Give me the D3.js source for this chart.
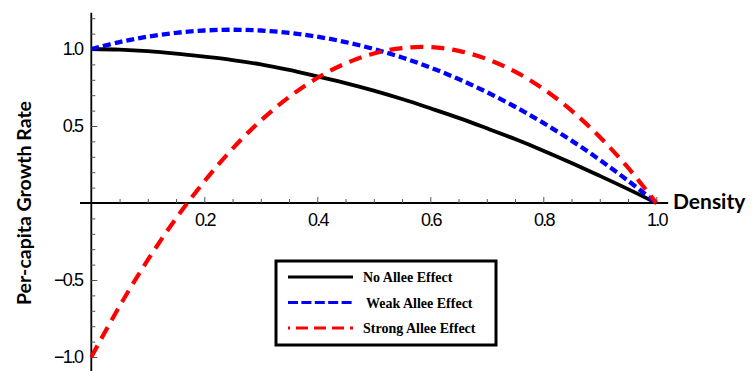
<!DOCTYPE html>
<html>
<head>
<meta charset="utf-8">
<script src="https://cdn.jsdelivr.net/npm/d3@7"></script>
<style>
  html, body { margin: 0; padding: 0; background: #fff; }
  .tick-label { font-family: "Liberation Sans", Arial, sans-serif; font-size: 18px; letter-spacing: -1.8px; fill: #000; }
</style>
</head>
<body>
<div id="chart"></div>
<script>
// ---------------------------------------------
// DATA
// ---------------------------------------------
const density = [0, 0.05, 0.1, 0.15, 0.2, 0.25, 0.3, 0.35, 0.4, 0.45, 0.5,
                 0.55, 0.6, 0.65, 0.7, 0.75, 0.8, 0.85, 0.9, 0.95, 1.0];

const noAllee = [1.0, 0.996, 0.986, 0.97, 0.95, 0.928, 0.9, 0.864, 0.822, 0.779, 0.73,
                 0.675, 0.615, 0.553, 0.485, 0.415, 0.34, 0.26, 0.176, 0.09, 0.0];

const weakAllee = [1.0, 1.045, 1.08, 1.105, 1.12, 1.125, 1.12, 1.105, 1.08, 1.045, 1.0,
                   0.945, 0.88, 0.805, 0.72, 0.625, 0.52, 0.405, 0.28, 0.145, 0.0];

const strongAllee = [-1.0, -0.67, -0.37, -0.1, 0.14, 0.353, 0.535, 0.688, 0.812, 0.906, 0.971,
                     1.006, 1.012, 0.988, 0.935, 0.853, 0.741, 0.6, 0.429, 0.229, 0.0];

const seriesNames = ["No Allee Effect", "Weak Allee Effect", "Strong Allee Effect"];

const xTicks = [0.2, 0.4, 0.6, 0.8, 1.0];
const xTickLabels = ["0.2", "0.4", "0.6", "0.8", "1.0"];
const yTicks = [-1.0, -0.5, 0.5, 1.0];
const yTickLabels = ["\u22121.0", "\u22120.5", "0.5", "1.0"];

(() => {
  const W = 752, H = 371;

  const svg = d3.select("#chart").append("svg")
    .attr("width", W)
    .attr("height", H);

  // ---------------------------------------------
  // SCALES
  // ---------------------------------------------
  const x = d3.scaleLinear().domain([0, 1]).range([91.3, 656.3]);
  const y = d3.scaleLinear().domain([-1, 1]).range([357, 49]);

  const styles = [
    { values: noAllee,     color: "#000",    width: 3.8, dash: null },
    { values: weakAllee,   color: "#0000ff", width: 4.3, dash: "8,4" },
    { values: strongAllee, color: "#ff0000", width: 4.2, dash: "13,8" }
  ];

  // ---------------------------------------------
  // AXES
  // ---------------------------------------------
  const xMinor = d3.range(1, 21).map(i => i * 0.05).filter(v => Math.abs(v * 5 - Math.round(v * 5)) > 1e-6);
  const yMinor = d3.range(-11, 13).map(i => i / 10).filter(v => Math.abs(v * 2 - Math.round(v * 2)) > 1e-6);

  // axis lines
  svg.append("line")
    .attr("x1", x(-0.02)).attr("x2", x(1.021))
    .attr("y1", y(0)).attr("y2", y(0))
    .attr("stroke", "#000").attr("stroke-width", 1.8);

  svg.append("line")
    .attr("x1", x(0)).attr("x2", x(0))
    .attr("y1", y(1.236)).attr("y2", H)
    .attr("stroke", "#000").attr("stroke-width", 1.8);

  const gx = svg.append("g").attr("transform", `translate(0,${y(0)})`);
  gx.append("g")
    .call(d3.axisBottom(x).tickValues(xMinor).tickSize(-4).tickFormat(""))
    .call(g => g.select(".domain").remove());
  gx.append("g")
    .call(d3.axisBottom(x).tickValues(xTicks).tickSize(-6).tickPadding(10)
      .tickFormat((d, i) => xTickLabels[i]))
    .call(g => g.select(".domain").remove())
    .call(g => g.selectAll("text").attr("class", "tick-label").attr("font-size", null).attr("font-family", null));

  const gy = svg.append("g").attr("transform", `translate(${x(0)},0)`);
  gy.append("g")
    .call(d3.axisLeft(y).tickValues(yMinor).tickSize(-4).tickFormat(""))
    .call(g => g.select(".domain").remove());
  gy.append("g")
    .call(d3.axisLeft(y).tickValues(yTicks).tickSize(-6).tickPadding(9)
      .tickFormat((d, i) => yTickLabels[i]))
    .call(g => g.select(".domain").remove())
    .call(g => g.selectAll("text").attr("class", "tick-label").attr("font-size", null).attr("font-family", null));

  svg.selectAll(".tick line").attr("stroke", "#555").attr("stroke-width", 1);

  // axis titles
  svg.append("text")
    .attr("transform", `translate(31,${y(0)}) rotate(-90)`)
    .attr("text-anchor", "middle")
    .style("font-family", "Lato, 'Open Sans', sans-serif")
    .style("font-weight", "bold")
    .style("font-size", "19.5px")
    .text("Per-capita Growth Rate");

  svg.append("text")
    .attr("x", 673).attr("y", 209)
    .style("font-family", "Lato, 'Open Sans', sans-serif")
    .style("font-weight", "bold")
    .style("font-size", "21px")
    .text("Density");

  // ---------------------------------------------
  // CURVES
  // ---------------------------------------------
  const line = d3.line()
    .x((d, i) => x(density[i]))
    .y(d => y(d))
    .curve(d3.curveCatmullRom.alpha(0.5));

  styles.forEach(s => {
    svg.append("path")
      .datum(s.values)
      .attr("d", line)
      .attr("fill", "none")
      .attr("stroke", s.color)
      .attr("stroke-width", s.width)
      .attr("stroke-dasharray", s.dash);
  });

  // ---------------------------------------------
  // LEGEND
  // ---------------------------------------------
  const lg = svg.append("g").attr("transform", "translate(276,261)");
  lg.append("rect")
    .attr("width", 220).attr("height", 84)
    .attr("fill", "#fff")
    .attr("stroke", "#000").attr("stroke-width", 3);

  const legendDash = [null, "10,3.4", "12,6"];
  const legendOffset = [0, 0, 10];
  seriesNames.forEach((name, i) => {
    const ry = 16 + i * 25.5;
    lg.append("line")
      .attr("x1", 12).attr("x2", 77)
      .attr("y1", ry).attr("y2", ry)
      .attr("stroke", styles[i].color)
      .attr("stroke-width", 3)
      .attr("stroke-dasharray", legendDash[i])
      .attr("stroke-dashoffset", legendOffset[i]);
    lg.append("text")
      .attr("x", i === 1 ? 90 : 87).attr("y", ry + 5)
      .style("font-family", "'Liberation Serif', 'Times New Roman', serif")
      .style("font-weight", "bold")
      .style("font-size", "14px")
      .text(name);
  });
})();
</script>
</body>
</html>
